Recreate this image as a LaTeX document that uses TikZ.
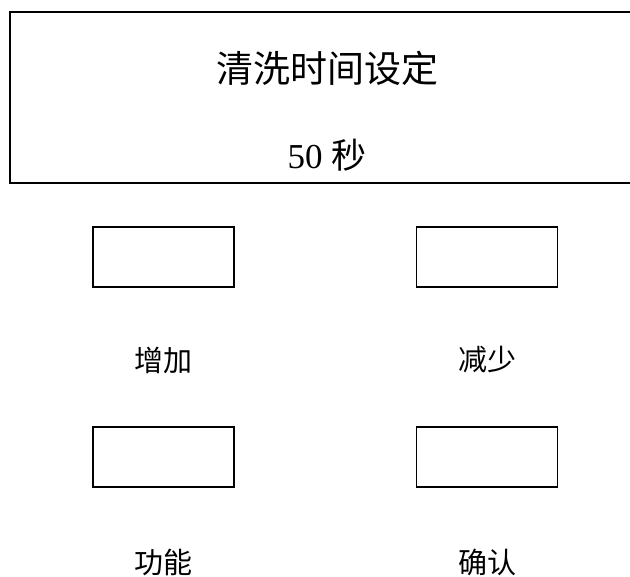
\documentclass[tikz,border=0pt]{standalone}
\usepackage{fontspec}
\setmainfont{Liberation Serif}
\newfontfamily\cjk{Noto Sans CJK SC}
\begin{document}
\begin{tikzpicture}[x=1pt,y=-1pt,
  frame/.style={draw=black,line width=1.8pt},
  btn/.style={draw=black,line width=1.8pt,minimum width=141pt,minimum height=60pt,inner sep=0pt},
  lbl/.style={font=\fontsize{29}{32}\selectfont\cjk,inner sep=0pt},
  big/.style={font=\fontsize{35}{40}\selectfont,inner sep=0pt}]
\useasboundingbox (0,0) rectangle (630,577);
\fill[white] (0,0) rectangle (630,577);
\draw[frame] (10,12) -- (640,12) -- (640,183) -- (10,183) -- cycle;
\node[big,font=\fontsize{37}{40}\selectfont] (title) at (327,68) {\cjk 清洗时间设定};
\node[big] (value) at (327,155) {50 {\cjk 秒}};
\node[btn] (b1) at (163.5,257) {};
\node[btn] (b2) at (487,257) {};
\node[btn] (b3) at (163.5,457) {};
\node[btn] (b4) at (487,457) {};
\node[lbl] (l1) at (163,360) {增加};
\node[lbl] (l2) at (487,360) {减少};
\node[lbl] (l3) at (163,562) {功能};
\node[lbl] (l4) at (487,562) {确认};
\end{tikzpicture}
\end{document}
